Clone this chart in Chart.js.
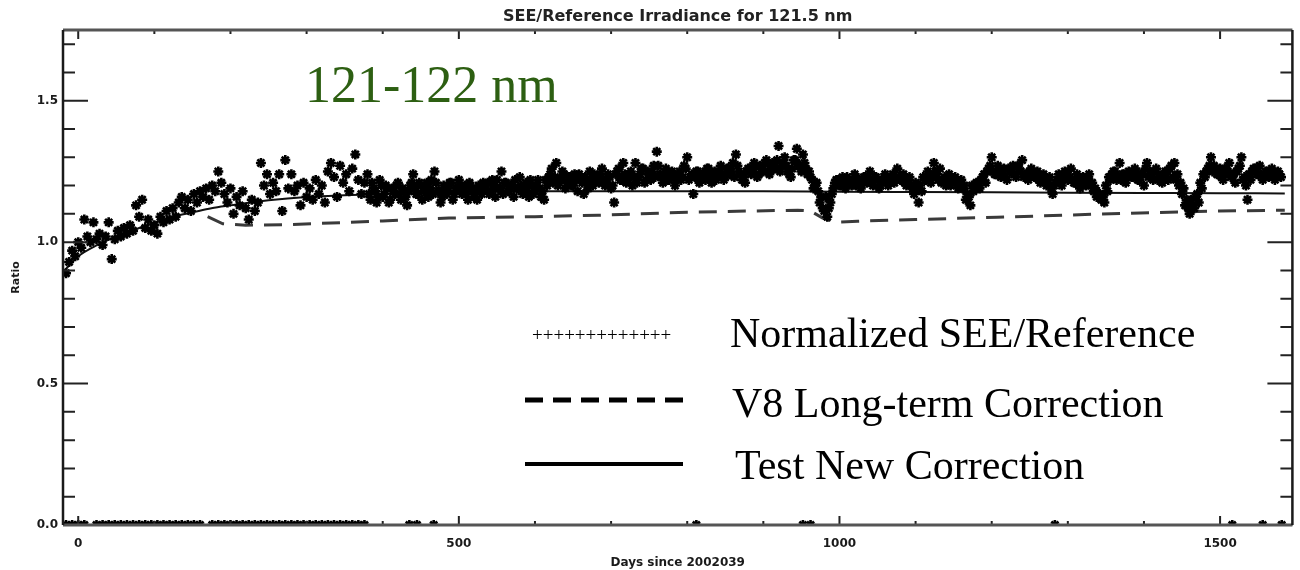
<!DOCTYPE html>
<html>
<head>
<meta charset="utf-8">
<title>SEE/Reference Irradiance for 121.5 nm</title>
<script src="https://cdn.jsdelivr.net/npm/chart.js@4.4.0/dist/chart.umd.min.js"></script>
<style>
  html, body { margin: 0; padding: 0; background: #fff; }
  #wrap { width: 1300px; height: 570px; }
</style>
</head>
<body>
<div id="wrap"><canvas id="myChart" width="1300" height="570"></canvas></div>
<script>
// dias desde 2002039 (cada 4 dias)
const diasSEE = [
  -16, -12, -8, -4, 0, 4, 8, 12, 16, 20, 24, 28, 32, 36, 40, 44, 48, 52, 56, 60, 64, 68, 72, 76, 80,
  84, 88, 92, 96, 100, 104, 108, 112, 116, 120, 124, 128, 132, 136, 140, 144, 148, 152, 156, 160, 164, 168, 172, 176, 180,
  184, 188, 192, 196, 200, 204, 208, 212, 216, 220, 224, 228, 232, 236, 240, 244, 248, 252, 256, 260, 264, 268, 272, 276, 280,
  284, 288, 292, 296, 300, 304, 308, 312, 316, 320, 324, 328, 332, 336, 340, 344, 348, 352, 356, 360, 364, 368, 372, 376, 380,
  384, 388, 392, 396, 400, 404, 408, 412, 416, 420, 424, 428, 432, 436, 440, 444, 448, 452, 456, 460, 464, 468, 472, 476, 480,
  484, 488, 492, 496, 500, 504, 508, 512, 516, 520, 524, 528, 532, 536, 540, 544, 548, 552, 556, 560, 564, 568, 572, 576, 580,
  584, 588, 592, 596, 600, 604, 608, 612, 616, 620, 624, 628, 632, 636, 640, 644, 648, 652, 656, 660, 664, 668, 672, 676, 680,
  684, 688, 692, 696, 700, 704, 708, 712, 716, 720, 724, 728, 732, 736, 740, 744, 748, 752, 756, 760, 764, 768, 772, 776, 780,
  784, 788, 792, 796, 800, 804, 808, 812, 816, 820, 824, 828, 832, 836, 840, 844, 848, 852, 856, 860, 864, 868, 872, 876, 880,
  884, 888, 892, 896, 900, 904, 908, 912, 916, 920, 924, 928, 932, 936, 940, 944, 948, 952, 956, 960, 964, 968, 972, 976, 980,
  984, 988, 992, 996, 1000, 1004, 1008, 1012, 1016, 1020, 1024, 1028, 1032, 1036, 1040, 1044, 1048, 1052, 1056, 1060, 1064, 1068, 1072, 1076, 1080,
  1084, 1088, 1092, 1096, 1100, 1104, 1108, 1112, 1116, 1120, 1124, 1128, 1132, 1136, 1140, 1144, 1148, 1152, 1156, 1160, 1164, 1168, 1172, 1176, 1180,
  1184, 1188, 1192, 1196, 1200, 1204, 1208, 1212, 1216, 1220, 1224, 1228, 1232, 1236, 1240, 1244, 1248, 1252, 1256, 1260, 1264, 1268, 1272, 1276, 1280,
  1284, 1288, 1292, 1296, 1300, 1304, 1308, 1312, 1316, 1320, 1324, 1328, 1332, 1336, 1340, 1344, 1348, 1352, 1356, 1360, 1364, 1368, 1372, 1376, 1380,
  1384, 1388, 1392, 1396, 1400, 1404, 1408, 1412, 1416, 1420, 1424, 1428, 1432, 1436, 1440, 1444, 1448, 1452, 1456, 1460, 1464, 1468, 1472, 1476, 1480,
  1484, 1488, 1492, 1496, 1500, 1504, 1508, 1512, 1516, 1520, 1524, 1528, 1532, 1536, 1540, 1544, 1548, 1552, 1556, 1560, 1564, 1568, 1572, 1576, 1580
];
// SEE/Reference normalizado
const ratioSEE = [
  0.89, 0.93, 0.97, 0.95, 1.00, 0.98, 1.08, 1.02, 1.00, 1.07, 1.01, 1.03, 0.99, 1.02, 1.07, 0.94, 1.01, 1.04, 1.02, 1.05, 1.03, 1.06, 1.04, 1.13, 1.09,
  1.15, 1.05, 1.08, 1.04, 1.06, 1.03, 1.09, 1.07, 1.11, 1.08, 1.12, 1.09, 1.14, 1.16, 1.12, 1.15, 1.11, 1.17, 1.14, 1.18, 1.16, 1.19, 1.15, 1.20, 1.18,
  1.25, 1.21, 1.17, 1.14, 1.19, 1.10, 1.16, 1.13, 1.18, 1.12, 1.08, 1.15, 1.11, 1.14, 1.28, 1.20, 1.24, 1.17, 1.21, 1.18, 1.24, 1.11, 1.29, 1.19, 1.24,
  1.18, 1.20, 1.13, 1.21, 1.16, 1.19, 1.15, 1.22, 1.17, 1.20, 1.14, 1.25, 1.28, 1.23, 1.16, 1.27, 1.21, 1.24, 1.18, 1.26, 1.31, 1.22, 1.17, 1.21, 1.24,
  1.15, 1.19, 1.14, 1.22, 1.16, 1.20, 1.14, 1.19, 1.17, 1.21, 1.15, 1.18, 1.13, 1.20, 1.24, 1.17, 1.21, 1.15, 1.19, 1.16, 1.22, 1.25, 1.18, 1.14, 1.20,
  1.17, 1.21, 1.15, 1.19, 1.22, 1.17, 1.20, 1.15, 1.19, 1.16, 1.15, 1.18, 1.21, 1.20, 1.17, 1.22, 1.16, 1.19, 1.25, 1.21, 1.18, 1.20, 1.16, 1.19, 1.23,
  1.17, 1.21, 1.16, 1.20, 1.18, 1.22, 1.16, 1.15, 1.20, 1.24, 1.21, 1.28, 1.22, 1.25, 1.19, 1.23, 1.20, 1.24, 1.18, 1.22, 1.17, 1.21, 1.25, 1.20, 1.23,
  1.21, 1.26, 1.20, 1.24, 1.19, 1.14, 1.25, 1.22, 1.28, 1.21, 1.24, 1.20, 1.28, 1.23, 1.26, 1.21, 1.25, 1.22, 1.27, 1.32, 1.24, 1.21, 1.26, 1.22, 1.25,
  1.20, 1.24, 1.22, 1.27, 1.30, 1.23, 1.17, 1.25, 1.21, 1.24, 1.22, 1.26, 1.21, 1.25, 1.23, 1.27, 1.22, 1.26, 1.24, 1.28, 1.31, 1.25, 1.22, 1.21, 1.26,
  1.24, 1.28, 1.23, 1.27, 1.25, 1.29, 1.24, 1.28, 1.26, 1.34, 1.27, 1.30, 1.25, 1.23, 1.29, 1.33, 1.27, 1.31, 1.26, 1.25, 1.22, 1.20, 1.18, 1.16, 1.11,
  1.09, 1.14, 1.19, 1.22, 1.20, 1.23, 1.19, 1.22, 1.20, 1.24, 1.21, 1.19, 1.23, 1.21, 1.25, 1.20, 1.23, 1.19, 1.22, 1.24, 1.20, 1.23, 1.21, 1.26, 1.22,
  1.24, 1.20, 1.23, 1.19, 1.21, 1.14, 1.18, 1.22, 1.25, 1.21, 1.28, 1.24, 1.26, 1.22, 1.20, 1.24, 1.21, 1.23, 1.19, 1.22, 1.20, 1.17, 1.13, 1.18, 1.21,
  1.19, 1.23, 1.21, 1.26, 1.30, 1.24, 1.27, 1.23, 1.26, 1.22, 1.25, 1.27, 1.23, 1.26, 1.29, 1.24, 1.22, 1.26, 1.23, 1.25, 1.21, 1.24, 1.20, 1.23, 1.17,
  1.21, 1.24, 1.20, 1.25, 1.22, 1.26, 1.21, 1.24, 1.19, 1.23, 1.20, 1.24, 1.21, 1.19, 1.17, 1.15, 1.14, 1.18, 1.22, 1.25, 1.22, 1.28, 1.24, 1.21, 1.25,
  1.23, 1.26, 1.22, 1.24, 1.20, 1.28, 1.25, 1.22, 1.26, 1.23, 1.21, 1.25, 1.22, 1.27, 1.28, 1.24, 1.21, 1.19, 1.15, 1.10, 1.13, 1.16, 1.14, 1.19, 1.23,
  1.26, 1.30, 1.27, 1.24, 1.26, 1.22, 1.25, 1.28, 1.24, 1.21, 1.26, 1.30, 1.23, 1.15, 1.22, 1.26, 1.24, 1.27, 1.22, 1.25, 1.23, 1.26, 1.22, 1.25, 1.23
];
// segunda tanda de medidas (dias intermedios, banda densa desde el dia 382)
const diasSEE2 = [
  382, 386, 390, 394, 398, 402, 406, 410, 414, 418, 422, 426, 430, 434, 438, 442, 446, 450, 454, 458, 462, 466, 470, 474, 478,
  482, 486, 490, 494, 498, 502, 506, 510, 514, 518, 522, 526, 530, 534, 538, 542, 546, 550, 554, 558, 562, 566, 570, 574, 578,
  582, 586, 590, 594, 598, 602, 606, 610, 614, 618, 622, 626, 630, 634, 638, 642, 646, 650, 654, 658, 662, 666, 670, 674, 678,
  682, 686, 690, 694, 698, 702, 706, 710, 714, 718, 722, 726, 730, 734, 738, 742, 746, 750, 754, 758, 762, 766, 770, 774, 778,
  782, 786, 790, 794, 798, 802, 806, 810, 814, 818, 822, 826, 830, 834, 838, 842, 846, 850, 854, 858, 862, 866, 870, 874, 878,
  882, 886, 890, 894, 898, 902, 906, 910, 914, 918, 922, 926, 930, 934, 938, 942, 946, 950, 954, 958, 962, 966, 970, 974, 978,
  982, 986, 990, 994, 998, 1002, 1006, 1010, 1014, 1018, 1022, 1026, 1030, 1034, 1038, 1042, 1046, 1050, 1054, 1058, 1062, 1066, 1070, 1074, 1078,
  1082, 1086, 1090, 1094, 1098, 1102, 1106, 1110, 1114, 1118, 1122, 1126, 1130, 1134, 1138, 1142, 1146, 1150, 1154, 1158, 1162, 1166, 1170, 1174, 1178,
  1182, 1186, 1190, 1194, 1198, 1202, 1206, 1210, 1214, 1218, 1222, 1226, 1230, 1234, 1238, 1242, 1246, 1250, 1254, 1258, 1262, 1266, 1270, 1274, 1278,
  1282, 1286, 1290, 1294, 1298, 1302, 1306, 1310, 1314, 1318, 1322, 1326, 1330, 1334, 1338, 1342, 1346, 1350, 1354, 1358, 1362, 1366, 1370, 1374, 1378,
  1382, 1386, 1390, 1394, 1398, 1402, 1406, 1410, 1414, 1418, 1422, 1426, 1430, 1434, 1438, 1442, 1446, 1450, 1454, 1458, 1462, 1466, 1470, 1474, 1478,
  1482, 1486, 1490, 1494, 1498, 1502, 1506, 1510, 1514, 1518, 1522, 1526, 1530, 1534, 1538, 1542, 1546, 1550, 1554, 1558, 1562, 1566, 1570, 1574, 1578
];
const ratioSEE2 = [
  1.17, 1.21, 1.18, 1.16, 1.20, 1.17, 1.19, 1.15, 1.18, 1.20, 1.17, 1.19, 1.16, 1.18, 1.21, 1.19, 1.17, 1.20, 1.18, 1.21, 1.19, 1.17, 1.21, 1.18, 1.16,
  1.19, 1.18, 1.21, 1.17, 1.19, 1.20, 1.18, 1.17, 1.21, 1.19, 1.18, 1.20, 1.17, 1.19, 1.21, 1.18, 1.20, 1.22, 1.19, 1.17, 1.21, 1.18, 1.20, 1.22, 1.19,
  1.20, 1.18, 1.19, 1.22, 1.17, 1.20, 1.19, 1.18, 1.22, 1.23, 1.26, 1.23, 1.20, 1.22, 1.24, 1.21, 1.23, 1.20, 1.22, 1.24, 1.21, 1.23, 1.19, 1.22, 1.24,
  1.22, 1.24, 1.22, 1.21, 1.23, 1.20, 1.24, 1.26, 1.22, 1.24, 1.22, 1.25, 1.23, 1.21, 1.24, 1.26, 1.22, 1.24, 1.25, 1.23, 1.27, 1.23, 1.24, 1.22, 1.24,
  1.23, 1.22, 1.25, 1.23, 1.26, 1.22, 1.24, 1.23, 1.25, 1.22, 1.24, 1.26, 1.23, 1.24, 1.22, 1.25, 1.24, 1.23, 1.26, 1.25, 1.23, 1.27, 1.24, 1.23, 1.25,
  1.26, 1.25, 1.27, 1.24, 1.26, 1.28, 1.25, 1.27, 1.26, 1.29, 1.25, 1.28, 1.27, 1.24, 1.26, 1.29, 1.27, 1.25, 1.28, 1.24, 1.23, 1.19, 1.21, 1.14, 1.12,
  1.16, 1.12, 1.17, 1.21, 1.22, 1.20, 1.21, 1.23, 1.21, 1.22, 1.20, 1.22, 1.21, 1.23, 1.22, 1.21, 1.23, 1.22, 1.20, 1.22, 1.23, 1.21, 1.24, 1.22, 1.23,
  1.22, 1.21, 1.22, 1.20, 1.17, 1.19, 1.20, 1.23, 1.22, 1.24, 1.23, 1.25, 1.22, 1.21, 1.23, 1.22, 1.20, 1.22, 1.21, 1.20, 1.19, 1.15, 1.16, 1.20, 1.19,
  1.21, 1.22, 1.24, 1.25, 1.27, 1.25, 1.24, 1.26, 1.24, 1.23, 1.26, 1.25, 1.24, 1.27, 1.25, 1.23, 1.24, 1.25, 1.24, 1.23, 1.22, 1.23, 1.22, 1.21, 1.19,
  1.20, 1.22, 1.23, 1.22, 1.24, 1.23, 1.22, 1.21, 1.22, 1.21, 1.22, 1.23, 1.20, 1.18, 1.16, 1.17, 1.16, 1.20, 1.23, 1.24, 1.25, 1.23, 1.22, 1.24, 1.23,
  1.24, 1.23, 1.25, 1.22, 1.24, 1.26, 1.23, 1.24, 1.25, 1.22, 1.23, 1.24, 1.25, 1.26, 1.23, 1.22, 1.20, 1.17, 1.13, 1.12, 1.15, 1.12, 1.17, 1.21, 1.24,
  1.25, 1.27, 1.25, 1.26, 1.24, 1.23, 1.26, 1.25, 1.23, 1.24, 1.25, 1.27, 1.22, 1.20, 1.24, 1.25, 1.26, 1.24, 1.24, 1.23, 1.25, 1.24, 1.24, 1.23, 1.24
];
// dias sin dato (ratio 0, sobre el eje)
const diasCero = [
  -16, -8, 0, 8, 24, 32, 40, 48, 56, 64, 72, 80, 88, 96, 104, 112, 120, 128, 136, 144, 152, 160, 176, 184,
  192, 200, 208, 216, 224, 232, 240, 248, 256, 264, 272, 280, 288, 296, 304, 312, 320, 328, 336, 344, 352,
  360, 368, 376, 435, 445, 467, 812, 952, 962, 1283, 1516, 1556, 1581
];
const RATIO_SIN_DATO = 0;

// V8 Long-term Correction
const diasV8 = [170, 190, 220, 280, 400, 487, 600, 683, 800, 945, 962, 978, 995, 1024, 1100, 1207, 1338, 1499, 1585];
const ratioV8 = [1.09, 1.065, 1.06, 1.062, 1.075, 1.085, 1.09, 1.095, 1.106, 1.113, 1.11, 1.085, 1.07, 1.074, 1.08, 1.088, 1.099, 1.11, 1.113];

// Test New Correction
const diasTest = [-18, 0, 25, 50, 75, 100, 125, 150, 175, 200, 250, 300, 350, 400, 500, 600, 700, 800, 900, 1000, 1100, 1200, 1300, 1400, 1500, 1585];
const ratioTest = [0.9, 0.95, 0.99, 1.02, 1.045, 1.07, 1.09, 1.105, 1.12, 1.13, 1.148, 1.16, 1.166, 1.17, 1.177, 1.18, 1.18, 1.18, 1.18, 1.178, 1.177, 1.176, 1.175, 1.174, 1.173, 1.172];

// ejes
const xMayores = [0, 500, 1000, 1500];
const xEtiquetas = ["0", "500", "1000", "1500"];
const xMenores = [100, 200, 300, 400, 600, 700, 800, 900, 1100, 1200, 1300, 1400];
const yMayores = [0, 0.5, 1.0, 1.5];
const yEtiquetas = ["0.0", "0.5", "1.0", "1.5"];
const yMenores = [0.1, 0.2, 0.3, 0.4, 0.6, 0.7, 0.8, 0.9, 1.1, 1.2, 1.3, 1.4, 1.6, 1.7];

const TITULO = "SEE/Reference Irradiance for 121.5 nm";
const BANDA = "121-122 nm";
const leyenda = ["Normalized SEE/Reference", "V8 Long-term Correction", "Test New Correction"];

const fuenteEje = { family: "DejaVu Sans", size: 12, weight: "bold" };

function armarPuntos(xs, ys) {
  return xs.map((x, i) => ({ x: x, y: ys[i] }));
}

// marco, ticks hacia adentro, titulo y leyenda al estilo IDL
const marcoIDL = {
  id: "marcoIDL",
  afterDraw(chart) {
    const { ctx, chartArea: a, scales } = chart;
    const sx = scales.x;
    const sy = scales.y;
    ctx.save();

    ctx.strokeStyle = "#222";
    ctx.lineWidth = 2;
    const tickY = (v, largo) => {
      const y = sy.getPixelForValue(v);
      ctx.beginPath();
      ctx.moveTo(a.left, y); ctx.lineTo(a.left + largo, y);
      ctx.moveTo(a.right, y); ctx.lineTo(a.right - largo, y);
      ctx.stroke();
    };
    const tickX = (v, largo) => {
      const x = sx.getPixelForValue(v);
      ctx.beginPath();
      ctx.moveTo(x, a.bottom); ctx.lineTo(x, a.bottom - largo);
      ctx.moveTo(x, a.top); ctx.lineTo(x, a.top + largo);
      ctx.stroke();
    };
    yMayores.forEach((v) => tickY(v, 25));
    yMenores.forEach((v) => tickY(v, 12));
    xMayores.forEach((v) => tickX(v, 9));
    xMenores.forEach((v) => tickX(v, 4));

    // marco
    ctx.lineWidth = 3;
    ctx.strokeStyle = "#555";
    ctx.beginPath();
    ctx.moveTo(a.left, a.top); ctx.lineTo(a.right, a.top);
    ctx.moveTo(a.left, a.bottom); ctx.lineTo(a.right, a.bottom);
    ctx.stroke();
    ctx.lineWidth = 2.5;
    ctx.strokeStyle = "#1a1a1a";
    ctx.beginPath();
    ctx.moveTo(a.left, a.top); ctx.lineTo(a.left, a.bottom);
    ctx.moveTo(a.right, a.top); ctx.lineTo(a.right, a.bottom);
    ctx.stroke();

    // titulo centrado sobre el area del grafico
    ctx.fillStyle = "#222";
    ctx.font = "bold 16px 'DejaVu Sans'";
    ctx.textAlign = "center";
    ctx.textBaseline = "middle";
    ctx.fillText(TITULO, (a.left + a.right) / 2, 17);

    // rotulo de banda
    ctx.fillStyle = "#2d5f12";
    ctx.font = "52px 'Liberation Serif'";
    ctx.textAlign = "left";
    ctx.textBaseline = "alphabetic";
    ctx.fillText(BANDA, 305, 102);

    // leyenda
    ctx.fillStyle = "#000";
    ctx.font = "19px 'Liberation Serif'";
    ctx.fillText("+++++++++++++", 532, 341);

    ctx.strokeStyle = "#000";
    ctx.lineWidth = 5;
    ctx.setLineDash([18, 10]);
    ctx.beginPath();
    ctx.moveTo(525, 400); ctx.lineTo(683, 400);
    ctx.stroke();
    ctx.setLineDash([]);
    ctx.lineWidth = 4;
    ctx.beginPath();
    ctx.moveTo(525, 464); ctx.lineTo(683, 464);
    ctx.stroke();

    ctx.font = "42px 'Liberation Serif'";
    ctx.fillText(leyenda[0], 730, 347);
    ctx.fillText(leyenda[1], 732, 417);
    ctx.fillText(leyenda[2], 735, 479);

    ctx.restore();
  }
};

const estiloSEE = {
  showLine: false,
  pointStyle: "star",
  pointRadius: 5,
  borderWidth: 2.6,
  borderColor: "#000",
  backgroundColor: "#000",
  order: 0
};

new Chart(document.getElementById("myChart"), {
  type: "scatter",
  data: {
    datasets: [
      Object.assign({ label: leyenda[0], data: armarPuntos(diasSEE, ratioSEE) }, estiloSEE),
      Object.assign({ label: "SEE 2", data: armarPuntos(diasSEE2, ratioSEE2) }, estiloSEE),
      Object.assign({ label: "sin dato", data: diasCero.map((d) => ({ x: d, y: RATIO_SIN_DATO })) }, estiloSEE),
      {
        label: leyenda[1],
        type: "line",
        data: armarPuntos(diasV8, ratioV8),
        borderColor: "#3a3a3a",
        borderWidth: 3,
        borderDash: [18, 11],
        pointRadius: 0,
        fill: false,
        tension: 0,
        order: 2
      },
      {
        label: leyenda[2],
        type: "line",
        data: armarPuntos(diasTest, ratioTest),
        borderColor: "#111",
        borderWidth: 2,
        pointRadius: 0,
        fill: false,
        cubicInterpolationMode: "monotone",
        order: 1
      }
    ]
  },
  options: {
    responsive: false,
    devicePixelRatio: 1,
    animation: false,
    layout: { padding: { top: 30, right: 5, left: 0, bottom: 0 } },
    plugins: {
      legend: { display: false },
      tooltip: { enabled: false },
      title: { display: false }
    },
    scales: {
      x: {
        type: "linear",
        position: "bottom",
        min: -20,
        max: 1595,
        grid: { display: false, drawTicks: false },
        border: { display: false },
        afterBuildTicks: (eje) => { eje.ticks = xMayores.map((v) => ({ value: v })); },
        afterFit: (eje) => { eje.height = 45; },
        ticks: {
          autoSkip: false,
          maxRotation: 0,
          padding: 12,
          color: "#1a1a1a",
          font: fuenteEje,
          callback: (v, i) => xEtiquetas[i]
        },
        title: {
          display: true,
          text: "Days since 2002039",
          color: "#1a1a1a",
          font: fuenteEje,
          padding: { top: 0, bottom: 0 }
        }
      },
      y: {
        type: "linear",
        min: 0,
        max: 1.75,
        grid: { display: false, drawTicks: false },
        border: { display: false },
        afterBuildTicks: (eje) => { eje.ticks = yMayores.map((v) => ({ value: v })); },
        afterFit: (eje) => { eje.width = 63; },
        ticks: {
          autoSkip: false,
          padding: 5,
          color: "#1a1a1a",
          font: fuenteEje,
          callback: (v, i) => yEtiquetas[i]
        },
        title: {
          display: true,
          text: "Ratio",
          color: "#1a1a1a",
          font: { family: "DejaVu Sans", size: 11, weight: "bold" },
          padding: { top: 10, bottom: 0 }
        }
      }
    }
  },
  plugins: [marcoIDL]
});
</script>
</body>
</html>
